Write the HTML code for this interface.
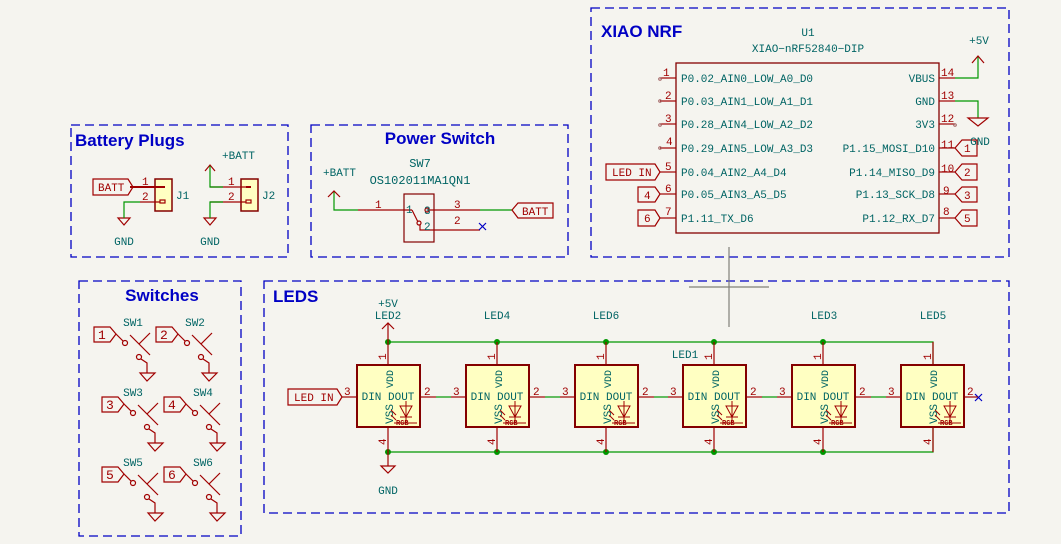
<!DOCTYPE html>
<html><head><meta charset="utf-8"><style>
html,body{margin:0;padding:0;background:#f5f4ef;}
svg{display:block;}
.t{font-family:"Liberation Mono",monospace;fill:#006464;}
.r{font-family:"Liberation Mono",monospace;fill:#a00000;}
.h{font-family:"Liberation Sans",sans-serif;fill:#0000c4;font-weight:bold;}
</style></head><body>
<svg width="1061" height="544" viewBox="0 0 1061 544" xmlns="http://www.w3.org/2000/svg">
<rect width="1061" height="544" fill="#f5f4ef"/>
<g fill="none" stroke="#0000c4" stroke-width="1.3" stroke-dasharray="9,5">
<rect x="591" y="8" width="418" height="249"/>
<rect x="71" y="125" width="217" height="132"/>
<rect x="311" y="125" width="257" height="132"/>
<rect x="79" y="281" width="162" height="255"/>
<rect x="264" y="281" width="745" height="232"/>
</g>
<text class="h" x="601" y="37" font-size="17">XIAO NRF</text>
<text class="h" x="75" y="146" font-size="17">Battery Plugs</text>
<text class="h" x="440" y="144" font-size="17" text-anchor="middle">Power Switch</text>
<text class="h" x="162" y="301" font-size="17" text-anchor="middle">Switches</text>
<text class="h" x="273" y="302" font-size="17">LEDS</text>

<g stroke="#808078" stroke-width="1.2"><line x1="729" y1="247" x2="729" y2="327"/><line x1="689" y1="287" x2="769" y2="287"/></g>

<text class="t" x="808" y="36" font-size="11" text-anchor="middle">U1</text>
<text class="t" x="808" y="52" font-size="11" text-anchor="middle">XIAO−nRF52840−DIP</text>
<rect x="676" y="63" width="263" height="170" fill="none" stroke="#840000" stroke-width="1.3"/>
<g stroke="#a00000" stroke-width="1.2">
<line x1="660" y1="78" x2="676" y2="78"/><line x1="660" y1="101" x2="676" y2="101"/><line x1="660" y1="124" x2="676" y2="124"/><line x1="660" y1="148" x2="676" y2="148"/><line x1="660" y1="172" x2="676" y2="172"/><line x1="660" y1="194" x2="676" y2="194"/><line x1="660" y1="218" x2="676" y2="218"/>
<line x1="939" y1="78" x2="955" y2="78"/><line x1="939" y1="101" x2="955" y2="101"/><line x1="939" y1="124" x2="955" y2="124"/><line x1="939" y1="148" x2="955" y2="148"/><line x1="939" y1="172" x2="955" y2="172"/><line x1="939" y1="194" x2="955" y2="194"/><line x1="939" y1="218" x2="955" y2="218"/>
</g>
<g fill="none" stroke="#a06060" stroke-width="1"><circle cx="660" cy="79" r="1.3"/><circle cx="660" cy="101" r="1.3"/><circle cx="660" cy="125" r="1.3"/><circle cx="660" cy="148" r="1.3"/><circle cx="955" cy="125" r="1.3"/></g>
<g class="r" font-size="11">
<text x="663" y="76">1</text><text x="665" y="99">2</text><text x="665" y="122">3</text><text x="666" y="145">4</text><text x="665" y="170">5</text><text x="665" y="192">6</text><text x="665" y="215">7</text>
<text x="941" y="76">14</text><text x="941" y="99">13</text><text x="941" y="122">12</text><text x="941" y="148">11</text><text x="941" y="172">10</text><text x="943" y="194">9</text><text x="943" y="215">8</text>
</g>
<g class="t" font-size="11">
<text x="681" y="82">P0.02_AIN0_LOW_A0_D0</text><text x="681" y="105">P0.03_AIN1_LOW_A1_D1</text><text x="681" y="128">P0.28_AIN4_LOW_A2_D2</text><text x="681" y="152">P0.29_AIN5_LOW_A3_D3</text><text x="681" y="176">P0.04_AIN2_A4_D4</text><text x="681" y="198">P0.05_AIN3_A5_D5</text><text x="681" y="222">P1.11_TX_D6</text>
</g>
<g class="t" font-size="11" text-anchor="end">
<text x="935" y="82">VBUS</text><text x="935" y="105">GND</text><text x="935" y="128">3V3</text><text x="935" y="152">P1.15_MOSI_D10</text><text x="935" y="176">P1.14_MISO_D9</text><text x="935" y="198">P1.13_SCK_D8</text><text x="935" y="222">P1.12_RX_D7</text>
</g>
<g fill="none" stroke="#009600" stroke-width="1.2"><polyline points="955,78 978,78 978,57"/><polyline points="955,101 978,101 978,118"/></g>
<g fill="none" stroke="#a00000" stroke-width="1.2">
<polyline points="972,63 978,56 984,63"/><polygon points="968,118 988,118 978,126"/>
<polygon points="606,164 655,164 660,172 655,180 606,180"/>
<polygon points="638,187 655,187 660,194 655,202 638,202"/>
<polygon points="638,210 655,210 660,218 655,226 638,226"/>
<polygon points="955,148 962,140 977,140 977,156 962,156"/>
<polygon points="955,172 962,164 977,164 977,180 962,180"/>
<polygon points="955,194 962,187 977,187 977,202 962,202"/>
<polygon points="955,218 962,210 977,210 977,226 962,226"/>
</g>
<g class="r" font-size="11">
<text x="612" y="176">LED IN</text><text x="644" y="199">4</text><text x="644" y="222">6</text>
<text x="964" y="152">1</text><text x="964" y="176">2</text><text x="964" y="199">3</text><text x="964" y="222">5</text>
</g>
<text class="t" x="979" y="44" font-size="11" text-anchor="middle">+5V</text>
<text class="t" x="980" y="145" font-size="11" text-anchor="middle">GND</text>

<g fill="#ffffc2" stroke="#840000" stroke-width="1.5"><rect x="155" y="179" width="17" height="32"/><rect x="241" y="179" width="17" height="32"/></g>
<g stroke="#a00000" stroke-width="1.2" fill="none">
<line x1="130" y1="187" x2="165" y2="187" stroke-width="2"/><line x1="140" y1="202" x2="160" y2="202"/><rect x="160" y="200" width="5" height="3"/>
<line x1="210" y1="187" x2="251" y2="187"/><line x1="210" y1="202" x2="246" y2="202"/><rect x="246" y="200" width="5" height="3"/>
<line x1="246" y1="187" x2="251" y2="187" stroke-width="2"/>
<polygon points="93,179 128,179 133,187 128,195 93,195"/>
<polygon points="118,218 130,218 124,225"/><polygon points="204,218 216,218 210,225"/>
<polyline points="205,171 210,165 215,171"/>
</g>
<g fill="none" stroke="#009600" stroke-width="1.2"><polyline points="140,202 124,202 124,218"/><polyline points="223,202 210,202 210,218"/><polyline points="223,187 210,187 210,166"/></g>
<g class="r" font-size="11"><text x="98" y="191">BATT</text><text x="142" y="185">1</text><text x="142" y="200">2</text><text x="228" y="185">1</text><text x="228" y="200">2</text></g>
<g class="t" font-size="11"><text x="176" y="199">J1</text><text x="262" y="199">J2</text><text x="222" y="159">+BATT</text><text x="124" y="245" text-anchor="middle">GND</text><text x="210" y="245" text-anchor="middle">GND</text></g>

<text class="t" x="420" y="167" font-size="12" text-anchor="middle">SW7</text>
<text class="t" x="420" y="184" font-size="12" text-anchor="middle">OS102011MA1QN1</text>
<text class="t" x="323" y="176" font-size="11">+BATT</text>
<rect x="404" y="194" width="30" height="48" fill="none" stroke="#840000" stroke-width="1.2"/>
<g fill="none" stroke="#009600" stroke-width="1.2"><polyline points="334,191 334,210 358,210"/><line x1="480" y1="210" x2="512" y2="210"/></g>
<g fill="none" stroke="#a00000" stroke-width="1.2">
<polyline points="328,197 334,191 340,197"/>
<line x1="358" y1="210" x2="412" y2="210"/><line x1="427" y1="210" x2="480" y2="210"/>
<line x1="412" y1="210" x2="418" y2="222"/><circle cx="419" cy="223" r="2"/><circle cx="427" cy="210" r="2"/>
<polyline points="420,225 420,230 480,230"/>
<polygon points="512,210 518,203 553,203 553,218 518,218"/>
</g>
<g stroke="#0000c4" stroke-width="1.2"><line x1="479" y1="223" x2="486" y2="230"/><line x1="486" y1="223" x2="479" y2="230"/></g>
<g class="r" font-size="11"><text x="375" y="208">1</text><text x="454" y="208">3</text><text x="454" y="224">2</text><text x="522" y="215">BATT</text></g>
<g class="t" font-size="11"><text x="406" y="213">1</text><text x="424" y="214">3</text><text x="424" y="230">2</text></g>

<g class="t" font-size="11" text-anchor="middle"><text x="133" y="326">SW1</text><text x="195" y="326">SW2</text><text x="133" y="396">SW3</text><text x="203" y="396">SW4</text><text x="133" y="466">SW5</text><text x="203" y="466">SW6</text></g>
<g fill="none" stroke="#a00000" stroke-width="1.2">
<g transform="translate(0,0)"><polygon points="94,327 110,327 116,334 110,342 94,342"/><line x1="116" y1="334" x2="123" y2="341"/><circle cx="125" cy="343" r="2.5"/><line x1="130" y1="335" x2="150" y2="355"/><line x1="139" y1="344" x2="150" y2="333"/><circle cx="139" cy="357" r="2.5"/><polyline points="141,359 147,363 147,373"/><polygon points="140,373 155,373 147,381"/></g>
<g transform="translate(62,0)"><polygon points="94,327 110,327 116,334 110,342 94,342"/><line x1="116" y1="334" x2="123" y2="341"/><circle cx="125" cy="343" r="2.5"/><line x1="130" y1="335" x2="150" y2="355"/><line x1="139" y1="344" x2="150" y2="333"/><circle cx="139" cy="357" r="2.5"/><polyline points="141,359 147,363 147,373"/><polygon points="140,373 155,373 147,381"/></g>
<g transform="translate(8,70)"><polygon points="94,327 110,327 116,334 110,342 94,342"/><line x1="116" y1="334" x2="123" y2="341"/><circle cx="125" cy="343" r="2.5"/><line x1="130" y1="335" x2="150" y2="355"/><line x1="139" y1="344" x2="150" y2="333"/><circle cx="139" cy="357" r="2.5"/><polyline points="141,359 147,363 147,373"/><polygon points="140,373 155,373 147,381"/></g>
<g transform="translate(70,70)"><polygon points="94,327 110,327 116,334 110,342 94,342"/><line x1="116" y1="334" x2="123" y2="341"/><circle cx="125" cy="343" r="2.5"/><line x1="130" y1="335" x2="150" y2="355"/><line x1="139" y1="344" x2="150" y2="333"/><circle cx="139" cy="357" r="2.5"/><polyline points="141,359 147,363 147,373"/><polygon points="140,373 155,373 147,381"/></g>
<g transform="translate(8,140)"><polygon points="94,327 110,327 116,334 110,342 94,342"/><line x1="116" y1="334" x2="123" y2="341"/><circle cx="125" cy="343" r="2.5"/><line x1="130" y1="335" x2="150" y2="355"/><line x1="139" y1="344" x2="150" y2="333"/><circle cx="139" cy="357" r="2.5"/><polyline points="141,359 147,363 147,373"/><polygon points="140,373 155,373 147,381"/></g>
<g transform="translate(70,140)"><polygon points="94,327 110,327 116,334 110,342 94,342"/><line x1="116" y1="334" x2="123" y2="341"/><circle cx="125" cy="343" r="2.5"/><line x1="130" y1="335" x2="150" y2="355"/><line x1="139" y1="344" x2="150" y2="333"/><circle cx="139" cy="357" r="2.5"/><polyline points="141,359 147,363 147,373"/><polygon points="140,373 155,373 147,381"/></g>
</g>
<g class="r" font-size="13"><text x="98" y="339">1</text><text x="160" y="339">2</text><text x="106" y="409">3</text><text x="168" y="409">4</text><text x="106" y="479">5</text><text x="168" y="479">6</text></g>

<g fill="none" stroke="#009600" stroke-width="1.2">
<polyline points="388,342 933,342 933,365"/><polyline points="388,452 933,452 933,427"/>
<line x1="436" y1="397" x2="451" y2="397"/><line x1="545" y1="397" x2="560" y2="397"/><line x1="654" y1="397" x2="668" y2="397"/><line x1="762" y1="397" x2="777" y2="397"/><line x1="871" y1="397" x2="886" y2="397"/>
</g>
<g fill="#009600"><circle cx="388" cy="342" r="3"/><circle cx="497" cy="342" r="3"/><circle cx="606" cy="342" r="3"/><circle cx="714" cy="342" r="3"/><circle cx="823" cy="342" r="3"/>
<circle cx="388" cy="452" r="3"/><circle cx="497" cy="452" r="3"/><circle cx="606" cy="452" r="3"/><circle cx="714" cy="452" r="3"/><circle cx="823" cy="452" r="3"/></g>
<g fill="none" stroke="#a00000" stroke-width="1.2">
<line x1="388" y1="323" x2="388" y2="342"/><polyline points="382,329 388,323 394,329"/>
<line x1="388" y1="452" x2="388" y2="466"/><polygon points="381,466 395,466 388,473"/>
<polygon points="288,389 337,389 342,397 337,405 288,405"/>
</g>
<g stroke="#0000c4" stroke-width="1.2"><line x1="975" y1="394" x2="982" y2="401"/><line x1="982" y1="394" x2="975" y2="401"/></g>
<text class="r" x="294" y="401" font-size="11">LED IN</text>
<g class="t" font-size="11" text-anchor="middle">
<text x="388" y="307">+5V</text><text x="388" y="319">LED2</text><text x="497" y="319">LED4</text><text x="606" y="319">LED6</text><text x="685" y="358">LED1</text><text x="824" y="319">LED3</text><text x="933" y="319">LED5</text><text x="388" y="494">GND</text>
</g>

<g>
<g transform="translate(357,365)"><line x1="31" y1="-23" x2="31" y2="0" stroke="#a00000" stroke-width="1.2"/><line x1="31" y1="62" x2="31" y2="87" stroke="#a00000" stroke-width="1.2"/><line x1="-15" y1="32" x2="0" y2="32" stroke="#a00000" stroke-width="1.2"/><line x1="63" y1="32" x2="79" y2="32" stroke="#a00000" stroke-width="1.2"/><rect x="0" y="0" width="63" height="62" fill="#ffffc2" stroke="#840000" stroke-width="2"/><text class="t" x="31" y="35" font-size="11" text-anchor="middle">DIN DOUT</text><text class="t" font-size="10" transform="translate(36,23) rotate(-90)">VDD</text><text class="t" font-size="11" text-anchor="end" transform="translate(36,39) rotate(-90)">VSS</text><g fill="none" stroke="#a00000" stroke-width="1"><polygon points="43,41 55,41 49,52"/><line x1="43" y1="52" x2="55" y2="52"/><line x1="49" y1="36" x2="49" y2="58"/><line x1="39" y1="50" x2="34" y2="45"/><line x1="39" y1="55" x2="34" y2="50"/><line x1="37" y1="58" x2="60" y2="58"/></g><text class="r" x="39" y="60" font-size="7" font-weight="bold">RGB</text><text class="r" font-size="11" transform="translate(29,-5) rotate(-90)">1</text><text class="r" font-size="11" transform="translate(29,80) rotate(-90)">4</text><text class="r" x="-13" y="30" font-size="11">3</text><text class="r" x="67" y="30" font-size="11">2</text></g>
<g transform="translate(466,365)"><line x1="31" y1="-23" x2="31" y2="0" stroke="#a00000" stroke-width="1.2"/><line x1="31" y1="62" x2="31" y2="87" stroke="#a00000" stroke-width="1.2"/><line x1="-15" y1="32" x2="0" y2="32" stroke="#a00000" stroke-width="1.2"/><line x1="63" y1="32" x2="79" y2="32" stroke="#a00000" stroke-width="1.2"/><rect x="0" y="0" width="63" height="62" fill="#ffffc2" stroke="#840000" stroke-width="2"/><text class="t" x="31" y="35" font-size="11" text-anchor="middle">DIN DOUT</text><text class="t" font-size="10" transform="translate(36,23) rotate(-90)">VDD</text><text class="t" font-size="11" text-anchor="end" transform="translate(36,39) rotate(-90)">VSS</text><g fill="none" stroke="#a00000" stroke-width="1"><polygon points="43,41 55,41 49,52"/><line x1="43" y1="52" x2="55" y2="52"/><line x1="49" y1="36" x2="49" y2="58"/><line x1="39" y1="50" x2="34" y2="45"/><line x1="39" y1="55" x2="34" y2="50"/><line x1="37" y1="58" x2="60" y2="58"/></g><text class="r" x="39" y="60" font-size="7" font-weight="bold">RGB</text><text class="r" font-size="11" transform="translate(29,-5) rotate(-90)">1</text><text class="r" font-size="11" transform="translate(29,80) rotate(-90)">4</text><text class="r" x="-13" y="30" font-size="11">3</text><text class="r" x="67" y="30" font-size="11">2</text></g>
<g transform="translate(575,365)"><line x1="31" y1="-23" x2="31" y2="0" stroke="#a00000" stroke-width="1.2"/><line x1="31" y1="62" x2="31" y2="87" stroke="#a00000" stroke-width="1.2"/><line x1="-15" y1="32" x2="0" y2="32" stroke="#a00000" stroke-width="1.2"/><line x1="63" y1="32" x2="79" y2="32" stroke="#a00000" stroke-width="1.2"/><rect x="0" y="0" width="63" height="62" fill="#ffffc2" stroke="#840000" stroke-width="2"/><text class="t" x="31" y="35" font-size="11" text-anchor="middle">DIN DOUT</text><text class="t" font-size="10" transform="translate(36,23) rotate(-90)">VDD</text><text class="t" font-size="11" text-anchor="end" transform="translate(36,39) rotate(-90)">VSS</text><g fill="none" stroke="#a00000" stroke-width="1"><polygon points="43,41 55,41 49,52"/><line x1="43" y1="52" x2="55" y2="52"/><line x1="49" y1="36" x2="49" y2="58"/><line x1="39" y1="50" x2="34" y2="45"/><line x1="39" y1="55" x2="34" y2="50"/><line x1="37" y1="58" x2="60" y2="58"/></g><text class="r" x="39" y="60" font-size="7" font-weight="bold">RGB</text><text class="r" font-size="11" transform="translate(29,-5) rotate(-90)">1</text><text class="r" font-size="11" transform="translate(29,80) rotate(-90)">4</text><text class="r" x="-13" y="30" font-size="11">3</text><text class="r" x="67" y="30" font-size="11">2</text></g>
<g transform="translate(683,365)"><line x1="31" y1="-23" x2="31" y2="0" stroke="#a00000" stroke-width="1.2"/><line x1="31" y1="62" x2="31" y2="87" stroke="#a00000" stroke-width="1.2"/><line x1="-15" y1="32" x2="0" y2="32" stroke="#a00000" stroke-width="1.2"/><line x1="63" y1="32" x2="79" y2="32" stroke="#a00000" stroke-width="1.2"/><rect x="0" y="0" width="63" height="62" fill="#ffffc2" stroke="#840000" stroke-width="2"/><text class="t" x="31" y="35" font-size="11" text-anchor="middle">DIN DOUT</text><text class="t" font-size="10" transform="translate(36,23) rotate(-90)">VDD</text><text class="t" font-size="11" text-anchor="end" transform="translate(36,39) rotate(-90)">VSS</text><g fill="none" stroke="#a00000" stroke-width="1"><polygon points="43,41 55,41 49,52"/><line x1="43" y1="52" x2="55" y2="52"/><line x1="49" y1="36" x2="49" y2="58"/><line x1="39" y1="50" x2="34" y2="45"/><line x1="39" y1="55" x2="34" y2="50"/><line x1="37" y1="58" x2="60" y2="58"/></g><text class="r" x="39" y="60" font-size="7" font-weight="bold">RGB</text><text class="r" font-size="11" transform="translate(29,-5) rotate(-90)">1</text><text class="r" font-size="11" transform="translate(29,80) rotate(-90)">4</text><text class="r" x="-13" y="30" font-size="11">3</text><text class="r" x="67" y="30" font-size="11">2</text></g>
<g transform="translate(792,365)"><line x1="31" y1="-23" x2="31" y2="0" stroke="#a00000" stroke-width="1.2"/><line x1="31" y1="62" x2="31" y2="87" stroke="#a00000" stroke-width="1.2"/><line x1="-15" y1="32" x2="0" y2="32" stroke="#a00000" stroke-width="1.2"/><line x1="63" y1="32" x2="79" y2="32" stroke="#a00000" stroke-width="1.2"/><rect x="0" y="0" width="63" height="62" fill="#ffffc2" stroke="#840000" stroke-width="2"/><text class="t" x="31" y="35" font-size="11" text-anchor="middle">DIN DOUT</text><text class="t" font-size="10" transform="translate(36,23) rotate(-90)">VDD</text><text class="t" font-size="11" text-anchor="end" transform="translate(36,39) rotate(-90)">VSS</text><g fill="none" stroke="#a00000" stroke-width="1"><polygon points="43,41 55,41 49,52"/><line x1="43" y1="52" x2="55" y2="52"/><line x1="49" y1="36" x2="49" y2="58"/><line x1="39" y1="50" x2="34" y2="45"/><line x1="39" y1="55" x2="34" y2="50"/><line x1="37" y1="58" x2="60" y2="58"/></g><text class="r" x="39" y="60" font-size="7" font-weight="bold">RGB</text><text class="r" font-size="11" transform="translate(29,-5) rotate(-90)">1</text><text class="r" font-size="11" transform="translate(29,80) rotate(-90)">4</text><text class="r" x="-13" y="30" font-size="11">3</text><text class="r" x="67" y="30" font-size="11">2</text></g>
<g transform="translate(901,365)"><line x1="32" y1="-23" x2="32" y2="0" stroke="#a00000" stroke-width="1.2"/><line x1="32" y1="62" x2="32" y2="87" stroke="#a00000" stroke-width="1.2"/><line x1="-15" y1="32" x2="0" y2="32" stroke="#a00000" stroke-width="1.2"/><line x1="63" y1="32" x2="77" y2="32" stroke="#a00000" stroke-width="1.2"/><rect x="0" y="0" width="63" height="62" fill="#ffffc2" stroke="#840000" stroke-width="2"/><text class="t" x="31" y="35" font-size="11" text-anchor="middle">DIN DOUT</text><text class="t" font-size="10" transform="translate(36,23) rotate(-90)">VDD</text><text class="t" font-size="11" text-anchor="end" transform="translate(36,39) rotate(-90)">VSS</text><g fill="none" stroke="#a00000" stroke-width="1"><polygon points="43,41 55,41 49,52"/><line x1="43" y1="52" x2="55" y2="52"/><line x1="49" y1="36" x2="49" y2="58"/><line x1="39" y1="50" x2="34" y2="45"/><line x1="39" y1="55" x2="34" y2="50"/><line x1="37" y1="58" x2="60" y2="58"/></g><text class="r" x="39" y="60" font-size="7" font-weight="bold">RGB</text><text class="r" font-size="11" transform="translate(30,-5) rotate(-90)">1</text><text class="r" font-size="11" transform="translate(30,80) rotate(-90)">4</text><text class="r" x="-13" y="30" font-size="11">3</text><text class="r" x="66" y="30" font-size="11">2</text></g>
</g>
</svg>
</body></html>
